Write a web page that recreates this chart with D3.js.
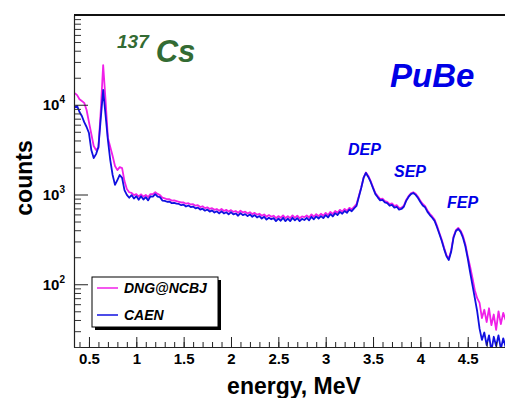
<!DOCTYPE html>
<html>
<head>
<meta charset="utf-8">
<script src="https://cdn.jsdelivr.net/npm/d3@7"></script>
<style>
  body { margin: 0; background: #fff; }
  svg { display: block; font-family: "Liberation Sans", Arial, Helvetica, sans-serif; }
</style>
</head>
<body>
<div id="chart"></div>
<script>
// energy bins (MeV)
var energy = [
  0.350, 0.375, 0.400, 0.425, 0.450, 0.475, 0.500, 0.525, 0.550, 0.575,
  0.600, 0.625, 0.650, 0.675, 0.700, 0.725, 0.750, 0.775, 0.800, 0.825,
  0.850, 0.875, 0.900, 0.925, 0.950, 0.975, 1.000, 1.025, 1.050, 1.075,
  1.100, 1.125, 1.150, 1.175, 1.200, 1.225, 1.250, 1.275, 1.300, 1.325,
  1.350, 1.375, 1.400, 1.425, 1.450, 1.475, 1.500, 1.525, 1.550, 1.575,
  1.600, 1.625, 1.650, 1.675, 1.700, 1.725, 1.750, 1.775, 1.800, 1.825,
  1.850, 1.875, 1.900, 1.925, 1.950, 1.975, 2.000, 2.025, 2.050, 2.075,
  2.100, 2.125, 2.150, 2.175, 2.200, 2.225, 2.250, 2.275, 2.300, 2.325,
  2.350, 2.375, 2.400, 2.425, 2.450, 2.475, 2.500, 2.525, 2.550, 2.575,
  2.600, 2.625, 2.650, 2.675, 2.700, 2.725, 2.750, 2.775, 2.800, 2.825,
  2.850, 2.875, 2.900, 2.925, 2.950, 2.975, 3.000, 3.025, 3.050, 3.075,
  3.100, 3.125, 3.150, 3.175, 3.200, 3.225, 3.250, 3.275, 3.300, 3.325,
  3.350, 3.375, 3.400, 3.425, 3.450, 3.475, 3.500, 3.525, 3.550, 3.575,
  3.600, 3.625, 3.650, 3.675, 3.700, 3.725, 3.750, 3.775, 3.800, 3.825,
  3.850, 3.875, 3.900, 3.925, 3.950, 3.975, 4.000, 4.025, 4.050, 4.075,
  4.100, 4.125, 4.150, 4.175, 4.200, 4.225, 4.250, 4.275, 4.300, 4.325,
  4.350, 4.375, 4.400, 4.425, 4.450, 4.475, 4.500, 4.525, 4.550, 4.575,
  4.600, 4.625, 4.650, 4.675, 4.700, 4.725, 4.750, 4.775, 4.800, 4.825,
  4.850, 4.875, 4.900
];

// DNG@NCBJ counts
var dngCounts = [
  13500, 12800, 11500, 11000, 10500, 8740, 6400, 4720, 3470, 3130,
  3300, 8740, 27700, 11300, 4270, 3380, 2680, 2080, 1870, 2020,
  1970, 1410, 1150, 1060, 1040, 985, 1010, 950, 1005, 945,
  990, 935, 1010, 1010, 1060, 1015, 985, 925, 905, 885,
  885, 855, 860, 845, 830, 815, 815, 790, 800, 775,
  780, 750, 760, 725, 740, 705, 720, 690, 705, 675,
  690, 660, 690, 655, 675, 645, 670, 640, 655, 625,
  660, 630, 645, 615, 635, 605, 625, 595, 610, 580,
  600, 565, 590, 565, 580, 545, 575, 550, 585, 545,
  575, 545, 585, 550, 580, 545, 570, 560, 585, 555,
  600, 565, 605, 575, 610, 580, 625, 590, 640, 605,
  655, 625, 675, 645, 690, 660, 710, 685, 730, 780,
  960, 1190, 1540, 1760, 1610, 1410, 1200, 1040, 960, 890,
  900, 845, 830, 780, 795, 745, 760, 710, 715, 750,
  870, 960, 1030, 1060, 1020, 945, 850, 785, 740, 665,
  610, 570, 525, 450, 375, 315, 256, 212, 192, 238,
  340, 400, 425, 395, 345, 280, 206, 158, 118, 86,
  70, 62, 42, 52, 38, 54, 35, 46, 31, 50,
  36, 48, 40
];

// CAEN counts
var caenCounts = [
  9400, 9700, 8300, 7500, 6400, 5650, 4840, 3130, 2550, 2820,
  3380, 7100, 14600, 7700, 4050, 2420, 1650, 1280, 1450, 1650,
  1530, 1120, 990, 920, 985, 900, 960, 875, 955, 880,
  935, 860, 955, 945, 1010, 945, 935, 855, 850, 830,
  835, 800, 805, 790, 785, 760, 770, 735, 755, 725,
  735, 700, 715, 680, 695, 660, 680, 645, 665, 630,
  650, 615, 650, 615, 635, 600, 635, 600, 615, 580,
  620, 590, 605, 575, 600, 565, 590, 555, 575, 540,
  565, 525, 550, 530, 545, 505, 540, 510, 550, 505,
  540, 505, 550, 515, 545, 505, 535, 520, 550, 515,
  565, 530, 570, 540, 575, 545, 590, 555, 605, 570,
  620, 590, 640, 610, 655, 625, 680, 650, 700, 745,
  940, 1180, 1530, 1740, 1570, 1380, 1180, 1010, 930, 860,
  870, 815, 800, 750, 765, 715, 730, 680, 690, 730,
  850, 940, 1010, 1040, 990, 915, 825, 755, 720, 640,
  590, 551, 508, 435, 365, 305, 248, 206, 186, 230,
  330, 392, 413, 383, 330, 265, 195, 137, 98, 70,
  50, 32, 24, 29, 21, 27, 18, 26, 20.5, 27,
  19, 25, 20
];

var seriesNames = ["DNG@NCBJ", "CAEN"];
var seriesColors = ["#f020e8", "#1010e0"];
var xTickLabels = [0.5, 1, 1.5, 2, 2.5, 3, 3.5, 4, 4.5];
var yTickLabels = [100, 1000, 10000];
var peakLabels = ["DEP", "SEP", "FEP"];

var W = 505, H = 398;
var plotL = 74, plotT = 15, plotR = 505.6, plotB = 347;

var svg = d3.select("#chart")
  .append("svg")
    .attr("width", W)
    .attr("height", H);

var x = d3.scaleLinear().domain([0.342, 4.9]).range([plotL, plotR]);
var y = d3.scaleLog().domain([20, 1e5]).range([plotB, plotT]);

svg.append("clipPath").attr("id", "plotClip")
  .append("rect")
    .attr("x", plotL).attr("y", plotT)
    .attr("width", plotR - plotL).attr("height", plotB - plotT);

// spectra, DNG first so CAEN lies on top
var line = d3.line()
  .x(function(d) { return x(d[0]); })
  .y(function(d) { return y(d[1]); });

[dngCounts, caenCounts].forEach(function(counts, i) {
  var pts = energy.map(function(e, j) { return [e, counts[j]]; });
  svg.append("path")
    .datum(pts)
    .attr("clip-path", "url(#plotClip)")
    .attr("fill", "none")
    .attr("stroke", seriesColors[i])
    .attr("stroke-width", 1.8)
    .attr("stroke-linejoin", "round")
    .attr("d", line);
});

// x axis: major + minor ticks pointing into the frame
var xMinor = d3.range(4, 49).map(function(v) { return v / 10; });
svg.append("g")
  .attr("transform", "translate(0," + plotB + ")")
  .call(d3.axisBottom(x).tickValues(xMinor).tickSize(-5).tickFormat(""))
  .call(function(g) { g.select(".domain").remove(); })
  .selectAll("line").attr("stroke", "#222");

var xAxis = svg.append("g")
  .attr("transform", "translate(0," + plotB + ")")
  .call(d3.axisBottom(x).tickValues(xTickLabels).tickSize(-10).tickSizeOuter(0).tickPadding(6)
    .tickFormat(function(d) { return String(d); }));
xAxis.select(".domain").attr("stroke", "#222").attr("stroke-width", 1.2);
xAxis.selectAll("line").attr("stroke", "#222");
xAxis.selectAll("text")
  .attr("font-family", "Liberation Sans, Arial, sans-serif")
  .attr("font-size", 15)
  .attr("font-weight", "bold")
  .attr("fill", "#000");

// y axis: decades + minor ticks
var yMinor = [];
[10, 100, 1000, 10000].forEach(function(dec) {
  for (var k = 2; k <= 9; k++) {
    if (k * dec >= 20) yMinor.push(k * dec);
  }
});
svg.append("g")
  .attr("transform", "translate(" + plotL + ",0)")
  .call(d3.axisLeft(y).tickValues(yMinor).tickSize(-7).tickFormat(""))
  .call(function(g) { g.select(".domain").remove(); })
  .selectAll("line").attr("stroke", "#333");

var yAxis = svg.append("g")
  .attr("transform", "translate(" + plotL + ",0)")
  .call(d3.axisLeft(y).tickValues(yTickLabels).tickSize(-14).tickSizeOuter(0).tickFormat(""));
yAxis.select(".domain").attr("stroke", "#222").attr("stroke-width", 1.2);
yAxis.selectAll("line").attr("stroke", "#222");

yTickLabels.forEach(function(v) {
  var t = svg.append("text")
    .attr("x", 65)
    .attr("y", y(v) + 5.5)
    .attr("text-anchor", "end")
    .attr("font-size", 15)
    .attr("font-weight", "bold");
  t.append("tspan").text("10");
  t.append("tspan")
    .attr("font-size", 10)
    .attr("dy", -7)
    .text(String(Math.round(Math.log10(v))));
});

// top frame line
svg.append("line")
  .attr("x1", plotL).attr("x2", plotR)
  .attr("y1", plotT).attr("y2", plotT)
  .attr("stroke", "#111")
  .attr("stroke-width", 2);

// axis titles
svg.append("text")
  .attr("x", 294)
  .attr("y", 394)
  .attr("text-anchor", "middle")
  .attr("font-size", 23)
  .attr("font-weight", "bold")
  .text("energy, MeV");

svg.append("text")
  .attr("transform", "translate(32,178) rotate(-90)")
  .attr("text-anchor", "middle")
  .attr("font-size", 23)
  .attr("font-weight", "bold")
  .text("counts");

// source labels
var src = svg.append("text")
  .attr("x", 117)
  .attr("y", 62)
  .attr("fill", "#336b33")
  .attr("font-weight", "bold")
  .attr("font-style", "italic");
src.append("tspan").attr("font-size", 19).attr("dy", -14).text("137");
src.append("tspan").attr("font-size", 31).attr("dx", 7).attr("dy", 14).text("Cs");

svg.append("text")
  .attr("x", 390)
  .attr("y", 87)
  .attr("fill", "#0000e6")
  .attr("font-size", 33)
  .attr("font-weight", "bold")
  .attr("font-style", "italic")
  .text("PuBe");

// peak labels
var peakPos = [[348, 155], [394, 177], [447, 208]];
peakLabels.forEach(function(lbl, i) {
  svg.append("text")
    .attr("x", peakPos[i][0])
    .attr("y", peakPos[i][1])
    .attr("fill", "#0000e6")
    .attr("font-size", 16)
    .attr("font-weight", "bold")
    .attr("font-style", "italic")
    .text(lbl);
});

// legend with ROOT-style shadow
var lg = svg.append("g").attr("transform", "translate(92,277)");
lg.append("rect")
  .attr("x", 3).attr("y", 3)
  .attr("width", 126).attr("height", 50)
  .attr("fill", "#000");
lg.append("rect")
  .attr("width", 126).attr("height", 50)
  .attr("fill", "#fff")
  .attr("stroke", "#000")
  .attr("stroke-width", 1);
seriesNames.forEach(function(name, i) {
  var yy = 11 + i * 27;
  lg.append("line")
    .attr("x1", 5).attr("x2", 26)
    .attr("y1", yy).attr("y2", yy)
    .attr("stroke", seriesColors[i])
    .attr("stroke-width", 1.5);
  lg.append("text")
    .attr("x", 32)
    .attr("y", yy + 5)
    .attr("font-size", 14)
    .attr("font-weight", "bold")
    .attr("font-style", "italic")
    .text(name);
});
</script>
</body>
</html>
